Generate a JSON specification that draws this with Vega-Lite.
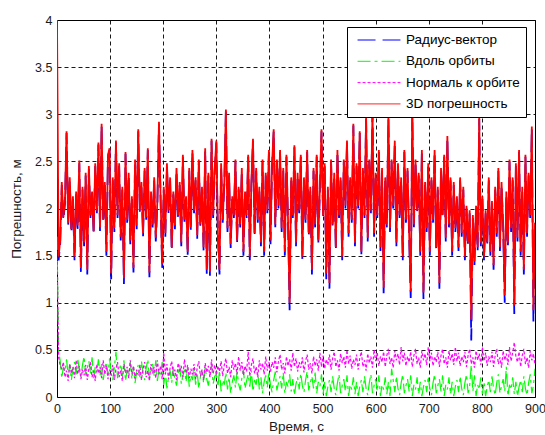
{
"$schema": "https://vega.github.io/schema/vega-lite/v6.json",
"width": 478, "height": 377,
"autosize": {"type": "none"},
"padding": {"left": 57, "top": 20, "right": 10, "bottom": 38},
"background": "white",
"data": {"values": [
{"t":0,"r":1.55,"d":4,"a":1.7,"n":1.7},
{"t":3,"r":1.45,"d":1.49,"a":0.5,"n":0.42},
{"t":6,"r":1.62,"d":1.66,"a":0.38,"n":0.33},
{"t":9,"r":2.25,"d":2.28,"a":0.2,"n":0.3},
{"t":12,"r":1.88,"d":1.91,"a":0.32,"n":0.37},
{"t":15,"r":2.05,"d":2.08,"a":0.27,"n":0.21},
{"t":18,"r":2.8,"d":2.82,"a":0.4,"n":0.28},
{"t":21,"r":1.82,"d":1.85,"a":0.22,"n":0.17},
{"t":24,"r":2.3,"d":2.33,"a":0.35,"n":0.35},
{"t":27,"r":1.74,"d":1.78,"a":0.18,"n":0.25},
{"t":30,"r":2.1,"d":2.13,"a":0.3,"n":0.32},
{"t":33,"r":1.45,"d":1.49,"a":0.37,"n":0.2},
{"t":36,"r":2.15,"d":2.18,"a":0.24,"n":0.39},
{"t":39,"r":1.78,"d":1.82,"a":0.41,"n":0.24},
{"t":42,"r":2.48,"d":2.51,"a":0.28,"n":0.33},
{"t":45,"r":1.32,"d":1.37,"a":0.21,"n":0.19},
{"t":48,"r":2.2,"d":2.23,"a":0.34,"n":0.29},
{"t":51,"r":1.6,"d":1.64,"a":0.43,"n":0.23},
{"t":54,"r":2.35,"d":2.38,"a":0.23,"n":0.34},
{"t":57,"r":1.3,"d":1.35,"a":0.31,"n":0.18},
{"t":60,"r":2.42,"d":2.45,"a":0.38,"n":0.3},
{"t":63,"r":1.9,"d":1.93,"a":0.25,"n":0.37},
{"t":66,"r":2.15,"d":2.18,"a":0.42,"n":0.21},
{"t":69,"r":1.72,"d":1.76,"a":0.2,"n":0.28},
{"t":72,"r":2.45,"d":2.48,"a":0.32,"n":0.17},
{"t":75,"r":1.95,"d":1.98,"a":0.27,"n":0.35},
{"t":78,"r":2.68,"d":2.7,"a":0.4,"n":0.25},
{"t":81,"r":1.76,"d":1.8,"a":0.22,"n":0.32},
{"t":84,"r":2.88,"d":2.9,"a":0.35,"n":0.2},
{"t":87,"r":1.85,"d":1.88,"a":0.18,"n":0.39},
{"t":90,"r":2.25,"d":2.28,"a":0.3,"n":0.24},
{"t":93,"r":1.5,"d":1.54,"a":0.37,"n":0.33},
{"t":96,"r":2.55,"d":2.57,"a":0.24,"n":0.19},
{"t":99,"r":2.62,"d":2.64,"a":0.41,"n":0.29},
{"t":102,"r":1.25,"d":1.31,"a":0.25,"n":0.23},
{"t":105,"r":2.3,"d":2.33,"a":0.18,"n":0.34},
{"t":108,"r":1.75,"d":1.79,"a":0.31,"n":0.18},
{"t":111,"r":2.7,"d":2.72,"a":0.48,"n":0.3},
{"t":114,"r":1.9,"d":1.93,"a":0.2,"n":0.37},
{"t":117,"r":2.45,"d":2.48,"a":0.28,"n":0.21},
{"t":120,"r":1.66,"d":1.7,"a":0.35,"n":0.28},
{"t":123,"r":2.2,"d":2.23,"a":0.22,"n":0.17},
{"t":126,"r":1.2,"d":1.26,"a":0.39,"n":0.35},
{"t":129,"r":2.58,"d":2.6,"a":0.17,"n":0.25},
{"t":132,"r":1.85,"d":1.88,"a":0.29,"n":0.32},
{"t":135,"r":2.35,"d":2.38,"a":0.24,"n":0.2},
{"t":138,"r":1.62,"d":1.66,"a":0.37,"n":0.39},
{"t":141,"r":2.1,"d":2.13,"a":0.19,"n":0.24},
{"t":144,"r":1.32,"d":1.37,"a":0.32,"n":0.33},
{"t":147,"r":2.5,"d":2.52,"a":0.15,"n":0.19},
{"t":150,"r":1.78,"d":1.82,"a":0.27,"n":0.29},
{"t":153,"r":2.82,"d":2.84,"a":0.34,"n":0.23},
{"t":156,"r":1.95,"d":1.98,"a":0.21,"n":0.34},
{"t":159,"r":2.25,"d":2.28,"a":0.38,"n":0.18},
{"t":162,"r":1.7,"d":1.74,"a":0.25,"n":0.3},
{"t":165,"r":2.4,"d":2.43,"a":0.18,"n":0.37},
{"t":168,"r":1.88,"d":1.91,"a":0.31,"n":0.21},
{"t":171,"r":2.62,"d":2.64,"a":0.4,"n":0.28},
{"t":174,"r":1.27,"d":1.32,"a":0.2,"n":0.17},
{"t":177,"r":2.15,"d":2.18,"a":0.28,"n":0.35},
{"t":180,"r":1.8,"d":1.83,"a":0.35,"n":0.25},
{"t":183,"r":2.3,"d":2.33,"a":0.22,"n":0.32},
{"t":186,"r":1.65,"d":1.69,"a":0.39,"n":0.2},
{"t":189,"r":2.05,"d":2.08,"a":0.17,"n":0.39},
{"t":192,"r":2.9,"d":2.92,"a":0.29,"n":0.24},
{"t":195,"r":2.1,"d":2.13,"a":0.24,"n":0.33},
{"t":198,"r":1.36,"d":1.41,"a":0.37,"n":0.19},
{"t":201,"r":2.2,"d":2.23,"a":0.13,"n":0.47},
{"t":204,"r":1.7,"d":1.74,"a":0.26,"n":0.24},
{"t":207,"r":2.45,"d":2.48,"a":0.09,"n":0.35},
{"t":210,"r":1.95,"d":1.98,"a":0.21,"n":0.19},
{"t":213,"r":2.3,"d":2.33,"a":0.28,"n":0.31},
{"t":216,"r":1.55,"d":1.59,"a":0.15,"n":0.38},
{"t":219,"r":2.15,"d":2.18,"a":0.32,"n":0.22},
{"t":222,"r":1.78,"d":1.82,"a":0.19,"n":0.29},
{"t":225,"r":2.4,"d":2.43,"a":0.12,"n":0.18},
{"t":228,"r":1.9,"d":1.93,"a":0.25,"n":0.36},
{"t":231,"r":2.25,"d":2.28,"a":0.34,"n":0.26},
{"t":234,"r":1.6,"d":1.64,"a":0.14,"n":0.33},
{"t":237,"r":2.55,"d":2.57,"a":0.22,"n":0.21},
{"t":240,"r":1.85,"d":1.88,"a":0.29,"n":0.4},
{"t":243,"r":2.1,"d":2.13,"a":0.16,"n":0.25},
{"t":246,"r":1.5,"d":1.54,"a":0.33,"n":0.34},
{"t":249,"r":2.4,"d":2.43,"a":0.11,"n":0.2},
{"t":252,"r":1.76,"d":1.8,"a":0.23,"n":0.3},
{"t":255,"r":2.6,"d":2.62,"a":0.18,"n":0.24},
{"t":258,"r":1.95,"d":1.98,"a":0.31,"n":0.35},
{"t":261,"r":2.3,"d":2.33,"a":0.13,"n":0.19},
{"t":264,"r":1.68,"d":1.72,"a":0.26,"n":0.31},
{"t":267,"r":2.5,"d":2.52,"a":0.09,"n":0.38},
{"t":270,"r":1.8,"d":1.83,"a":0.21,"n":0.22},
{"t":273,"r":2.2,"d":2.23,"a":0.28,"n":0.29},
{"t":276,"r":1.55,"d":1.59,"a":0.15,"n":0.18},
{"t":279,"r":2.62,"d":2.64,"a":0.32,"n":0.36},
{"t":282,"r":1.3,"d":1.35,"a":0.19,"n":0.26},
{"t":285,"r":2.35,"d":2.38,"a":0.12,"n":0.33},
{"t":288,"r":1.28,"d":1.33,"a":0.25,"n":0.21},
{"t":291,"r":2.72,"d":2.74,"a":0.34,"n":0.4},
{"t":294,"r":1.9,"d":1.93,"a":0.14,"n":0.25},
{"t":297,"r":2.4,"d":2.43,"a":0.22,"n":0.34},
{"t":300,"r":2.7,"d":2.72,"a":0.24,"n":0.23},
{"t":303,"r":1.7,"d":1.74,"a":0.11,"n":0.33},
{"t":306,"r":1.3,"d":1.35,"a":0.28,"n":0.27},
{"t":309,"r":2.45,"d":2.48,"a":0.06,"n":0.38},
{"t":312,"r":1.85,"d":1.88,"a":0.18,"n":0.22},
{"t":315,"r":2.25,"d":2.28,"a":0.13,"n":0.34},
{"t":318,"r":3.03,"d":3.05,"a":0.26,"n":0.41},
{"t":321,"r":1.75,"d":1.79,"a":0.08,"n":0.25},
{"t":324,"r":2.35,"d":2.38,"a":0.21,"n":0.32},
{"t":327,"r":1.58,"d":1.62,"a":0.04,"n":0.21},
{"t":330,"r":2.1,"d":2.13,"a":0.16,"n":0.39},
{"t":333,"r":1.9,"d":1.93,"a":0.23,"n":0.29},
{"t":336,"r":2.5,"d":2.52,"a":0.1,"n":0.36},
{"t":339,"r":1.62,"d":1.66,"a":0.27,"n":0.24},
{"t":342,"r":2.2,"d":2.23,"a":0.14,"n":0.43},
{"t":345,"r":1.8,"d":1.83,"a":0.07,"n":0.28},
{"t":348,"r":2.4,"d":2.43,"a":0.2,"n":0.37},
{"t":351,"r":1.5,"d":1.54,"a":0.29,"n":0.23},
{"t":354,"r":2.15,"d":2.18,"a":0.09,"n":0.33},
{"t":357,"r":1.9,"d":1.93,"a":0.17,"n":0.27},
{"t":360,"r":2.55,"d":2.57,"a":0.24,"n":0.48},
{"t":363,"r":1.45,"d":1.49,"a":0.11,"n":0.22},
{"t":366,"r":2.25,"d":2.28,"a":0.28,"n":0.34},
{"t":369,"r":2.72,"d":2.74,"a":0.06,"n":0.41},
{"t":372,"r":1.7,"d":1.74,"a":0.18,"n":0.25},
{"t":375,"r":2.4,"d":2.43,"a":0.13,"n":0.32},
{"t":378,"r":1.85,"d":1.88,"a":0.26,"n":0.21},
{"t":381,"r":2.2,"d":2.23,"a":0.08,"n":0.39},
{"t":384,"r":1.6,"d":1.64,"a":0.21,"n":0.29},
{"t":387,"r":2.5,"d":2.52,"a":0.04,"n":0.36},
{"t":390,"r":1.5,"d":1.54,"a":0.16,"n":0.24},
{"t":393,"r":2.35,"d":2.38,"a":0.23,"n":0.43},
{"t":396,"r":1.95,"d":1.98,"a":0.1,"n":0.28},
{"t":399,"r":2.6,"d":2.62,"a":0.27,"n":0.37},
{"t":402,"r":1.62,"d":1.66,"a":0.12,"n":0.27},
{"t":405,"r":2.45,"d":2.48,"a":0.05,"n":0.37},
{"t":408,"r":2.82,"d":2.84,"a":0.18,"n":0.31},
{"t":411,"r":1.8,"d":1.83,"a":0.27,"n":0.42},
{"t":414,"r":2.5,"d":2.52,"a":0.07,"n":0.26},
{"t":417,"r":2.0,"d":2.03,"a":0.15,"n":0.38},
{"t":420,"r":2.6,"d":2.62,"a":0.22,"n":0.45},
{"t":423,"r":1.75,"d":1.79,"a":0.09,"n":0.29},
{"t":426,"r":2.4,"d":2.43,"a":0.26,"n":0.36},
{"t":429,"r":1.5,"d":1.54,"a":0.04,"n":0.25},
{"t":432,"r":2.55,"d":2.57,"a":0.16,"n":0.43},
{"t":435,"r":1.85,"d":1.88,"a":0.11,"n":0.33},
{"t":438,"r":0.92,"d":1.0,"a":0.24,"n":0.4},
{"t":441,"r":2.3,"d":2.33,"a":0.06,"n":0.28},
{"t":444,"r":1.9,"d":1.93,"a":0.19,"n":0.47},
{"t":447,"r":2.65,"d":2.67,"a":0.02,"n":0.32},
{"t":450,"r":1.6,"d":1.64,"a":0.14,"n":0.41},
{"t":453,"r":2.35,"d":2.38,"a":0.21,"n":0.27},
{"t":456,"r":1.95,"d":1.98,"a":0.08,"n":0.37},
{"t":459,"r":2.55,"d":2.57,"a":0.25,"n":0.31},
{"t":462,"r":1.45,"d":1.49,"a":0.12,"n":0.42},
{"t":465,"r":2.3,"d":2.33,"a":0.05,"n":0.26},
{"t":468,"r":1.85,"d":1.88,"a":0.18,"n":0.38},
{"t":471,"r":2.6,"d":2.62,"a":0.27,"n":0.45},
{"t":474,"r":1.7,"d":1.74,"a":0.07,"n":0.29},
{"t":477,"r":2.2,"d":2.23,"a":0.15,"n":0.36},
{"t":480,"r":1.3,"d":1.35,"a":0.22,"n":0.25},
{"t":483,"r":2.4,"d":2.43,"a":0.09,"n":0.43},
{"t":486,"r":1.8,"d":1.83,"a":0.26,"n":0.33},
{"t":489,"r":2.55,"d":2.57,"a":0.04,"n":0.4},
{"t":492,"r":1.62,"d":1.66,"a":0.16,"n":0.28},
{"t":495,"r":2.2,"d":2.23,"a":0.11,"n":0.47},
{"t":498,"r":2.82,"d":2.84,"a":0.24,"n":0.32},
{"t":501,"r":1.9,"d":1.93,"a":0.03,"n":0.44},
{"t":504,"r":2.45,"d":2.48,"a":0.16,"n":0.3},
{"t":507,"r":1.25,"d":1.31,"a":0.01,"n":0.4},
{"t":510,"r":2.2,"d":2.23,"a":0.11,"n":0.34},
{"t":513,"r":1.15,"d":1.21,"a":0.18,"n":0.45},
{"t":516,"r":2.5,"d":2.52,"a":0.05,"n":0.29},
{"t":519,"r":1.8,"d":1.83,"a":0.22,"n":0.41},
{"t":522,"r":2.35,"d":2.38,"a":0.09,"n":0.48},
{"t":525,"r":1.55,"d":1.59,"a":0.02,"n":0.32},
{"t":528,"r":2.6,"d":2.62,"a":0.15,"n":0.39},
{"t":531,"r":1.9,"d":1.93,"a":0.24,"n":0.28},
{"t":534,"r":2.3,"d":2.33,"a":0.04,"n":0.46},
{"t":537,"r":1.45,"d":1.49,"a":0.12,"n":0.36},
{"t":540,"r":2.5,"d":2.52,"a":0.19,"n":0.43},
{"t":543,"r":2.0,"d":2.03,"a":0.06,"n":0.31},
{"t":546,"r":2.7,"d":2.72,"a":0.23,"n":0.5},
{"t":549,"r":1.7,"d":1.74,"a":0.01,"n":0.35},
{"t":552,"r":2.3,"d":2.33,"a":0.13,"n":0.44},
{"t":555,"r":1.85,"d":1.88,"a":0.08,"n":0.3},
{"t":558,"r":2.88,"d":2.9,"a":0.21,"n":0.4},
{"t":561,"r":1.6,"d":1.64,"a":0.03,"n":0.34},
{"t":564,"r":2.45,"d":2.48,"a":0.16,"n":0.45},
{"t":567,"r":2.0,"d":2.03,"a":0.01,"n":0.29},
{"t":570,"r":2.8,"d":2.82,"a":0.11,"n":0.41},
{"t":573,"r":1.5,"d":1.54,"a":0.18,"n":0.48},
{"t":576,"r":2.4,"d":2.43,"a":0.05,"n":0.32},
{"t":579,"r":1.9,"d":1.93,"a":0.22,"n":0.39},
{"t":582,"r":2.95,"d":2.97,"a":0.09,"n":0.28},
{"t":585,"r":1.65,"d":1.69,"a":0.02,"n":0.46},
{"t":588,"r":2.5,"d":2.52,"a":0.15,"n":0.36},
{"t":591,"r":1.95,"d":1.98,"a":0.24,"n":0.43},
{"t":594,"r":3.02,"d":3.04,"a":0.04,"n":0.31},
{"t":597,"r":1.7,"d":1.74,"a":0.12,"n":0.5},
{"t":600,"r":2.35,"d":2.38,"a":0.19,"n":0.38},
{"t":603,"r":1.9,"d":1.93,"a":0.06,"n":0.47},
{"t":606,"r":2.6,"d":2.62,"a":0.23,"n":0.33},
{"t":609,"r":1.55,"d":1.59,"a":0.01,"n":0.43},
{"t":612,"r":2.4,"d":2.43,"a":0.13,"n":0.37},
{"t":615,"r":1.1,"d":1.16,"a":0.08,"n":0.48},
{"t":618,"r":2.3,"d":2.33,"a":0.21,"n":0.32},
{"t":621,"r":1.8,"d":1.83,"a":0.03,"n":0.44},
{"t":624,"r":2.95,"d":2.97,"a":0.16,"n":0.51},
{"t":627,"r":1.75,"d":1.79,"a":0.01,"n":0.35},
{"t":630,"r":2.5,"d":2.52,"a":0.3,"n":0.42},
{"t":633,"r":2.0,"d":2.03,"a":0.18,"n":0.31},
{"t":636,"r":2.7,"d":2.72,"a":0.05,"n":0.49},
{"t":639,"r":1.6,"d":1.64,"a":0.22,"n":0.39},
{"t":642,"r":2.45,"d":2.48,"a":0.09,"n":0.46},
{"t":645,"r":1.9,"d":1.93,"a":0.02,"n":0.34},
{"t":648,"r":2.3,"d":2.33,"a":0.15,"n":0.53},
{"t":651,"r":1.45,"d":1.49,"a":0.24,"n":0.38},
{"t":654,"r":2.6,"d":2.62,"a":0.04,"n":0.47},
{"t":657,"r":1.85,"d":1.88,"a":0.12,"n":0.33},
{"t":660,"r":2.4,"d":2.43,"a":0.19,"n":0.43},
{"t":663,"r":1.7,"d":1.74,"a":0.06,"n":0.37},
{"t":666,"r":1.05,"d":1.12,"a":0.23,"n":0.48},
{"t":669,"r":3.0,"d":3.02,"a":0.01,"n":0.32},
{"t":672,"r":1.8,"d":1.83,"a":0.13,"n":0.44},
{"t":675,"r":2.5,"d":2.52,"a":0.08,"n":0.51},
{"t":678,"r":1.95,"d":1.98,"a":0.21,"n":0.35},
{"t":681,"r":2.35,"d":2.38,"a":0.03,"n":0.42},
{"t":684,"r":1.5,"d":1.54,"a":0.16,"n":0.31},
{"t":687,"r":2.6,"d":2.62,"a":0.01,"n":0.49},
{"t":690,"r":1.04,"d":1.11,"a":0.11,"n":0.39},
{"t":693,"r":2.25,"d":2.28,"a":0.18,"n":0.46},
{"t":696,"r":1.75,"d":1.79,"a":0.05,"n":0.34},
{"t":699,"r":2.45,"d":2.48,"a":0.22,"n":0.53},
{"t":702,"r":1.5,"d":1.54,"a":0.09,"n":0.38},
{"t":705,"r":2.3,"d":2.33,"a":0.02,"n":0.47},
{"t":708,"r":1.85,"d":1.88,"a":0.15,"n":0.33},
{"t":711,"r":2.6,"d":2.62,"a":0.24,"n":0.43},
{"t":714,"r":1.55,"d":1.59,"a":0.04,"n":0.37},
{"t":717,"r":2.2,"d":2.23,"a":0.12,"n":0.48},
{"t":720,"r":1.15,"d":1.21,"a":0.19,"n":0.32},
{"t":723,"r":2.4,"d":2.43,"a":0.06,"n":0.44},
{"t":726,"r":1.9,"d":1.93,"a":0.23,"n":0.51},
{"t":729,"r":2.55,"d":2.57,"a":0.01,"n":0.35},
{"t":732,"r":1.65,"d":1.69,"a":0.13,"n":0.42},
{"t":735,"r":2.75,"d":2.77,"a":0.08,"n":0.31},
{"t":738,"r":1.8,"d":1.83,"a":0.21,"n":0.49},
{"t":741,"r":2.3,"d":2.33,"a":0.03,"n":0.39},
{"t":744,"r":1.5,"d":1.54,"a":0.16,"n":0.46},
{"t":747,"r":2.25,"d":2.28,"a":0.01,"n":0.34},
{"t":750,"r":1.75,"d":1.79,"a":0.11,"n":0.53},
{"t":753,"r":2.1,"d":2.13,"a":0.18,"n":0.38},
{"t":756,"r":1.55,"d":1.59,"a":0.05,"n":0.47},
{"t":759,"r":2.3,"d":2.33,"a":0.22,"n":0.33},
{"t":762,"r":1.7,"d":1.74,"a":0.09,"n":0.43},
{"t":765,"r":2.2,"d":2.23,"a":0.02,"n":0.37},
{"t":768,"r":1.45,"d":1.49,"a":0.15,"n":0.48},
{"t":771,"r":2.0,"d":2.03,"a":0.24,"n":0.32},
{"t":774,"r":1.6,"d":1.64,"a":0.04,"n":0.44},
{"t":777,"r":1.95,"d":1.98,"a":0.12,"n":0.51},
{"t":780,"r":0.6,"d":0.82,"a":0.34,"n":0.35},
{"t":783,"r":1.9,"d":1.93,"a":0.06,"n":0.42},
{"t":786,"r":1.4,"d":1.44,"a":0.23,"n":0.31},
{"t":789,"r":2.0,"d":2.03,"a":0.01,"n":0.49},
{"t":792,"r":1.55,"d":1.59,"a":0.13,"n":0.39},
{"t":795,"r":2.95,"d":2.97,"a":0.08,"n":0.46},
{"t":798,"r":1.6,"d":1.64,"a":0.21,"n":0.34},
{"t":801,"r":2.1,"d":2.13,"a":0.03,"n":0.53},
{"t":804,"r":1.45,"d":1.49,"a":0.16,"n":0.38},
{"t":807,"r":1.95,"d":1.98,"a":0.01,"n":0.47},
{"t":810,"r":1.6,"d":1.64,"a":0.11,"n":0.33},
{"t":813,"r":2.3,"d":2.33,"a":0.18,"n":0.43},
{"t":816,"r":1.5,"d":1.54,"a":0.05,"n":0.37},
{"t":819,"r":2.05,"d":2.08,"a":0.22,"n":0.48},
{"t":822,"r":1.35,"d":1.4,"a":0.09,"n":0.32},
{"t":825,"r":2.2,"d":2.23,"a":0.02,"n":0.44},
{"t":828,"r":1.7,"d":1.74,"a":0.15,"n":0.51},
{"t":831,"r":2.4,"d":2.43,"a":0.24,"n":0.35},
{"t":834,"r":1.55,"d":1.59,"a":0.04,"n":0.42},
{"t":837,"r":2.25,"d":2.28,"a":0.12,"n":0.31},
{"t":840,"r":1.8,"d":1.83,"a":0.19,"n":0.49},
{"t":843,"r":1.0,"d":1.08,"a":0.06,"n":0.39},
{"t":846,"r":2.15,"d":2.18,"a":0.32,"n":0.46},
{"t":849,"r":1.6,"d":1.64,"a":0.01,"n":0.34},
{"t":852,"r":2.5,"d":2.52,"a":0.13,"n":0.53},
{"t":855,"r":1.75,"d":1.79,"a":0.08,"n":0.38},
{"t":858,"r":2.3,"d":2.33,"a":0.21,"n":0.47},
{"t":861,"r":0.88,"d":0.97,"a":0.03,"n":0.58},
{"t":864,"r":2.45,"d":2.48,"a":0.16,"n":0.43},
{"t":867,"r":1.65,"d":1.69,"a":0.01,"n":0.37},
{"t":870,"r":2.6,"d":2.62,"a":0.11,"n":0.48},
{"t":873,"r":1.5,"d":1.54,"a":0.18,"n":0.32},
{"t":876,"r":2.2,"d":2.23,"a":0.05,"n":0.44},
{"t":879,"r":1.3,"d":1.35,"a":0.22,"n":0.51},
{"t":882,"r":2.55,"d":2.57,"a":0.09,"n":0.35},
{"t":885,"r":1.7,"d":1.74,"a":0.02,"n":0.42},
{"t":888,"r":2.35,"d":2.38,"a":0.15,"n":0.31},
{"t":891,"r":1.9,"d":1.93,"a":0.24,"n":0.49},
{"t":894,"r":2.85,"d":2.87,"a":0.04,"n":0.39},
{"t":897,"r":0.8,"d":0.92,"a":0.12,"n":0.46},
{"t":900,"r":1.82,"d":1.85,"a":0.3,"n":0.34}
]},
"transform": [{"fold": ["a", "n", "r", "d"], "as": ["series", "value"]}],
"encoding": {
  "x": {"field": "t", "type": "quantitative",
        "scale": {"domain": [0, 900], "nice": false, "zero": false},
        "axis": {"values": [0,100,200,300,400,500,600,700,800,900], "title": "Время, с", "labelFlush": false, "labelOverlap": false, "labelPadding": 5, "titlePadding": 5}},
  "y": {"field": "value", "type": "quantitative",
        "scale": {"domain": [0, 4], "nice": false},
        "axis": {"values": [0,0.5,1,1.5,2,2.5,3,3.5,4], "format": "~g", "title": "Погрешность, м", "labelPadding": 5, "titlePadding": 11}},
  "color": {"field": "series", "type": "nominal",
        "scale": {"domain": ["r", "a", "n", "d"], "range": ["#0000ff", "#00ff00", "#ff00ff", "#ff0000"]},
        "legend": {"labelExpr": "datum.value == 'r' ? 'Радиус-вектор' : datum.value == 'a' ? 'Вдоль орбиты' : datum.value == 'n' ? 'Нормаль к орбите' : '3D погрешность'"}},
  "strokeDash": {"field": "series", "type": "nominal",
        "scale": {"domain": ["r", "a", "n", "d"], "range": [[18, 7], [13, 4, 3, 4], [3, 2], [1, 0]]},
        "legend": {"labelExpr": "datum.value == 'r' ? 'Радиус-вектор' : datum.value == 'a' ? 'Вдоль орбиты' : datum.value == 'n' ? 'Нормаль к орбите' : '3D погрешность'"}}
},
"layer": [
  {"transform": [{"filter": "datum.series == 'a'"}], "mark": {"type": "line", "strokeWidth": 1.2, "clip": true}},
  {"transform": [{"filter": "datum.series == 'n'"}], "mark": {"type": "line", "strokeWidth": 1.2, "clip": true}},
  {"transform": [{"filter": "datum.series == 'r'"}], "mark": {"type": "line", "strokeWidth": 1.8, "clip": true}},
  {"transform": [{"filter": "datum.series == 'd'"}], "mark": {"type": "line", "strokeWidth": 1.8, "clip": true}}
],
"config": {
  "font": "Liberation Sans",
  "view": {"stroke": "#000", "strokeWidth": 1},
  "axis": {"grid": true, "gridColor": "#000", "gridDash": [4, 3], "gridOpacity": 0.9, "gridWidth": 1,
           "domain": false, "ticks": false, "zindex": 1,
           "labelFont": "Liberation Sans", "labelFontSize": 12.5, "labelColor": "#1a1a1a",
           "titleFont": "Liberation Sans", "titleFontSize": 13.5, "titleFontWeight": "normal", "titleColor": "#1a1a1a"},
  "legend": {"orient": "none", "legendX": 290, "legendY": 7, "title": null,
             "fillColor": "white", "strokeColor": "#000", "padding": 6,
             "symbolType": "M-3.3,0H3.3", "symbolSize": 169, "symbolStrokeWidth": 1, "symbolOffset": 19,
             "labelFont": "Liberation Sans", "labelFontSize": 13.5, "labelColor": "#000",
             "rowPadding": 7.3, "labelOffset": 20, "labelLimit": 200}
}
}
